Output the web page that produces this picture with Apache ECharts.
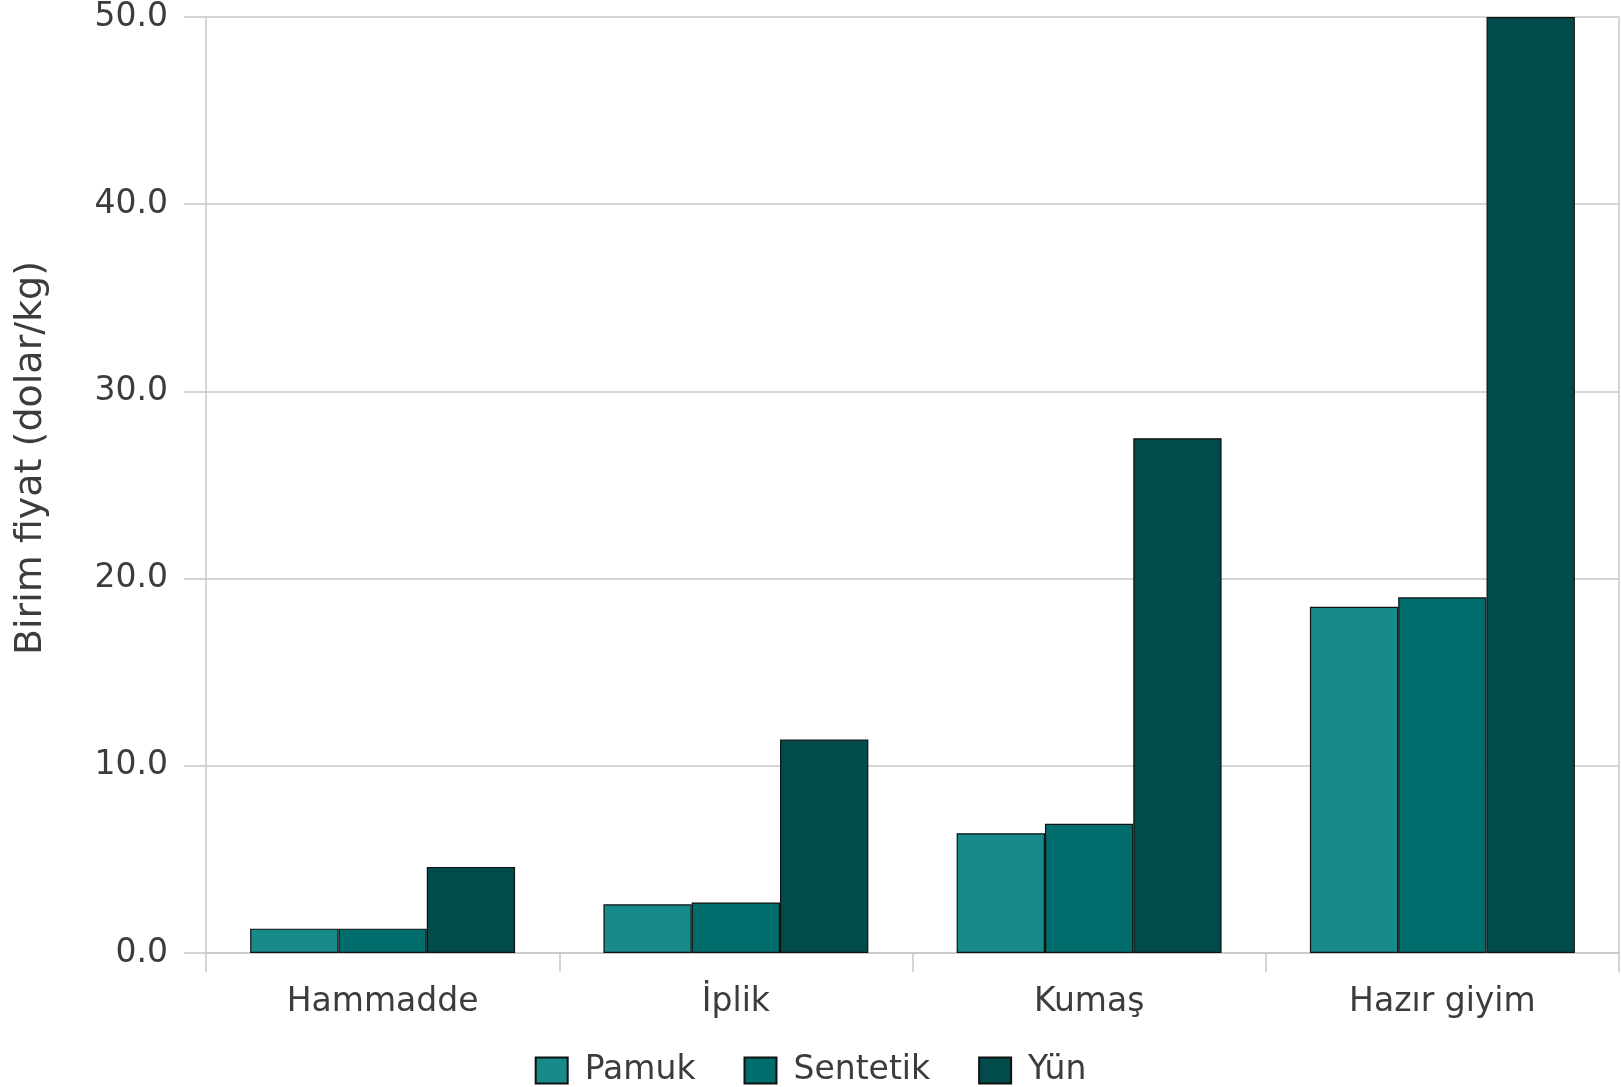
<!DOCTYPE html>
<html>
<head>
<meta charset="utf-8">
<script src="https://cdn.jsdelivr.net/npm/echarts@6/dist/echarts.min.js"></script>
<style>
html,body{margin:0;padding:0;background:#fff;}
#main{width:1621px;height:1087px;}
</style>
</head>
<body>
<div id="main"></div>
<script>
const categories = ['Hammadde', 'İplik', 'Kumaş', 'Hazır giyim'];
const seriesNames = ['Pamuk', 'Sentetik', 'Yün'];
const pamuk = [1.3, 2.6, 6.4, 18.5];
const sentetik = [1.3, 2.7, 6.9, 19.0];
const yun = [4.6, 11.4, 27.5, 50.0];
const colors = ['#198a8a', '#006c6c', '#024b4b'];
const yTitle = 'Birim fiyat (dolar/kg)';

const FONT = '"DejaVu Sans", "Liberation Sans", sans-serif';
const TXT = '#3c3c3c';
const AX = '#c8c8c8';

const chart = echarts.init(document.getElementById('main'), null, {renderer: 'canvas'});
const values = [pamuk, sentetik, yun];
chart.setOption({
  animation: false,
  backgroundColor: '#ffffff',
  textStyle: {fontFamily: FONT},
  grid: {left: 206, right: 2, top: 17, bottom: 134, containLabel: false},
  legend: {
    data: seriesNames,
    left: 'center',
    top: 1049,
    icon: 'rect',
    itemWidth: 32,
    itemHeight: 26,
    itemGap: 48,
    textStyle: {fontFamily: FONT, fontSize: 33, color: TXT, padding: [0, 0, 0, 12]}
  },
  xAxis: {
    type: 'category',
    data: categories,
    axisLine: {show: true, lineStyle: {color: AX, width: 1.5}},
    axisTick: {show: true, length: 19, alignWithLabel: false, lineStyle: {color: AX, width: 1.5}},
    axisLabel: {fontFamily: FONT, fontSize: 33, color: TXT, margin: 33},
    splitLine: {show: false}
  },
  yAxis: [{
    type: 'value',
    min: 0, max: 50, interval: 10,
    name: yTitle,
    nameLocation: 'middle',
    nameGap: 156,
    nameTextStyle: {fontFamily: FONT, fontSize: 38, color: TXT, padding: [0, 0, 0, 54]},
    axisLine: {show: true, lineStyle: {color: AX, width: 1.5}},
    axisTick: {show: true, length: 22, lineStyle: {color: AX, width: 1.5}},
    axisLabel: {fontFamily: FONT, fontSize: 33, color: TXT, margin: 38, formatter: v => v.toFixed(1)},
    splitLine: {show: true, lineStyle: {color: AX, width: 1.5}}
  }, {
    type: 'value',
    position: 'right',
    min: 0, max: 50, interval: 10,
    axisLine: {show: true, lineStyle: {color: AX, width: 1.5}},
    axisTick: {show: false},
    axisLabel: {show: false},
    splitLine: {show: false}
  }],
  series: seriesNames.map((n, i) => ({
    name: n,
    type: 'bar',
    data: values[i],
    barGap: '0%',
    barCategoryGap: '25%',
    itemStyle: {color: colors[i], borderColor: '#111', borderWidth: 1.2}
  }))
});
</script>
</body>
</html>
